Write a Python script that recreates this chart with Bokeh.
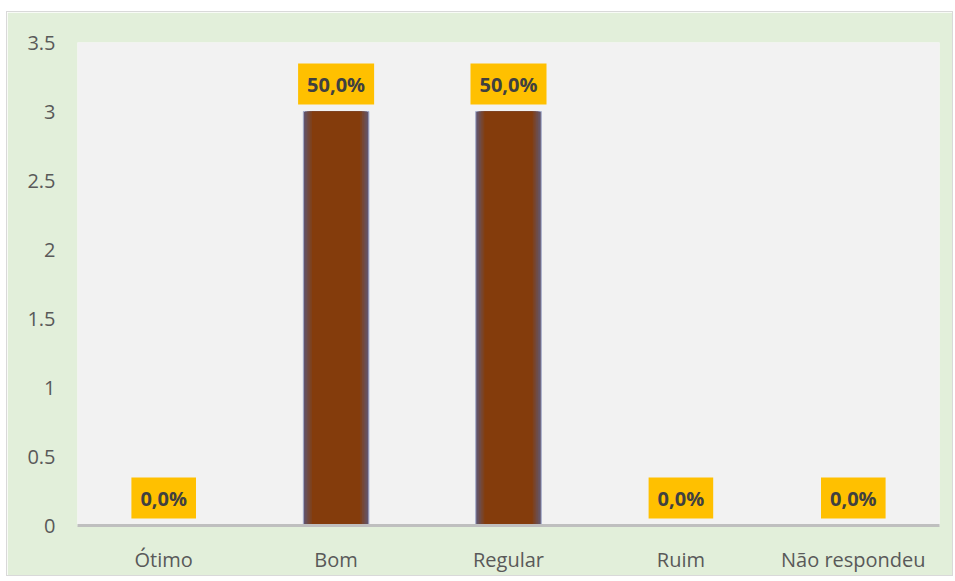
from bokeh.plotting import figure
from bokeh.models import ColumnDataSource, FixedTicker
from bokeh.core.properties import value
from bokeh.embed import file_html
from bokeh.resources import INLINE

categories = ["Ótimo", "Bom", "Regular", "Ruim", "Não respondeu"]
counts = [0, 3, 3, 0, 0]
pct_labels = ["0,0%", "50,0%", "50,0%", "0,0%", "0,0%"]
y_ticks = [0, 0.5, 1, 1.5, 2, 2.5, 3, 3.5]
y_tick_labels = ["0", "0.5", "1", "1.5", "2", "2.5", "3", "3.5"]

FONT = "Open Sans"

src = ColumnDataSource(dict(cat=categories, val=counts, lab=pct_labels))

p = figure(x_range=categories, y_range=(0, 3.5), frame_width=862, frame_height=483,
           output_backend="svg", toolbar_location=None,
           min_border_left=70, min_border_right=13, min_border_top=30, min_border_bottom=42)
p.styles = {"margin-left": "7px", "margin-top": "12px", "outline": "1px solid #D9D9D9"}
p.border_fill_color = "#E2EFDA"
p.background_fill_color = "#F2F2F2"
p.outline_line_color = None
p.xgrid.grid_line_color = None
p.ygrid.grid_line_color = None

# bar with soft glowing edge (layered fills)
glow_widths = [0.38, 0.36, 0.34, 0.32, 0.30, 0.28]
glow_colors = ["#62556E", "#68515A", "#6F4C47", "#764735", "#7D4220", "#843C0C"]
for i, (w, c) in enumerate(zip(glow_widths, glow_colors)):
    p.vbar(x="cat", top="val", width=w, source=src, fill_color=c,
           line_color="#A4ADCB" if i == 0 else None, line_width=1)

p.text(x="cat", y="val", text="lab", source=src, text_align="center",
       text_baseline="bottom", y_offset=-7, text_font=value(FONT),
       text_font_style="bold", text_font_size="20px", text_color="#404040",
       background_fill_color="#FFC000", padding=(9, 7))

p.yaxis.ticker = FixedTicker(ticks=y_ticks)
p.yaxis.major_label_overrides = {t: l for t, l in zip(y_ticks, y_tick_labels)}
p.yaxis.axis_line_color = None
p.yaxis.major_tick_line_color = None
p.yaxis.minor_tick_line_color = None
p.yaxis.major_label_standoff = 16
p.yaxis.major_label_text_font = FONT
p.yaxis.major_label_text_font_size = "20px"
p.yaxis.major_label_text_color = "#595959"

p.xaxis.axis_line_color = "#BFBFBF"
p.xaxis.axis_line_width = 3
p.xaxis.major_tick_line_color = None
p.xaxis.minor_tick_line_color = None
p.xaxis.major_label_standoff = 14
p.xaxis.major_label_text_font = FONT
p.xaxis.major_label_text_font_size = "20px"
p.xaxis.major_label_text_color = "#595959"

open("out.html", "w").write(file_html(p, INLINE))
